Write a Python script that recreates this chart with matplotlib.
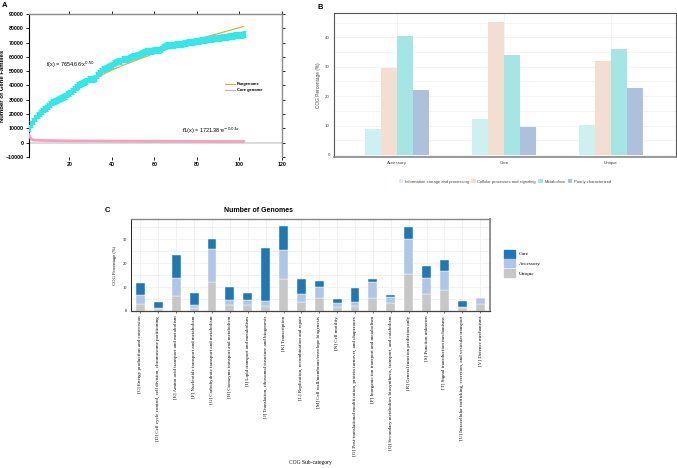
import matplotlib.pyplot as plt
from matplotlib.lines import Line2D
from matplotlib.patches import Patch
import numpy as np

plt.rcParams['font.family'] = ['Liberation Sans', 'DejaVu Sans']

# ---- panel A data ----
pan_x = list(range(1, 103))
pan_y = [10000, 12800, 15500, 17500, 19500, 21000, 22500, 23500, 24500, 26000,
         27000, 28200, 29000, 29600, 30500, 31200, 32000, 33000, 34000, 35000,
         36200, 37500, 38800, 40000, 40800, 41800, 42500, 43200, 44200, 44600,
         44800, 45300, 47000, 48800, 50200, 51200, 52300, 53000, 53500, 54300,
         55500, 56200, 57000, 57200, 58300, 58400, 58600, 59200, 59800, 60300,
         60600, 61200, 62000, 63000, 63500, 63800, 64000, 64200, 64300, 64500,
         64800, 65000, 65800, 66800, 67500, 68000, 68300, 68500, 68600, 68800,
         69000, 69100, 69300, 69500, 69800, 70100, 70400, 70700, 70900, 71100,
         71300, 71600, 71800, 72000, 72200, 72500, 72700, 72900, 73100, 73300,
         73500, 73700, 73900, 74100, 74300, 74600, 74800, 75000, 75200, 75400,
         75600, 75800]
fit_x = [1, 5, 10, 20, 30, 38, 45, 52, 60, 70, 76, 85, 94, 102]
fit_y = [8000, 17500, 25000, 35000, 43000, 49400, 54000, 58000, 62500, 67600,
         70300, 74300, 78000, 81300]
core_x = [1, 2, 3, 5, 10, 20, 40, 60, 80, 102]
core_y = [5500, 2500, 2000, 1700, 1500, 1300, 1100, 1000, 900, 850]

# ---- panel B data ----
b_groups = ["Accessory", "Core", "Unique"]
b_series = ["Information storage and processing", "Cellular processes and signaling",
            "Metabolism", "Poorly characterized"]
b_info = [8.7, 12.2, 10.2]
b_cell = [29.5, 45.1, 31.8]
b_metab = [40.5, 34.0, 35.9]
b_poor = [22.1, 9.5, 22.7]
b_colors = ["#cdf1f1", "#f3dfd2", "#a5e5e3", "#aec1dc"]

# ---- panel C data ----
cog_labels = [
    "[C] Energy production and conversion",
    "[D] Cell cycle control, cell division, chromosome partitioning",
    "[E] Amino acid transport and metabolism",
    "[F] Nucleotide transport and metabolism",
    "[G] Carbohydrate transport and metabolism",
    "[H] Coenzyme transport and metabolism",
    "[I] Lipid transport and metabolism",
    "[J] Translation, ribosomal structure and biogenesis",
    "[K] Transcription",
    "[L] Replication, recombination and repair",
    "[M] Cell wall/membrane/envelope biogenesis",
    "[N] Cell motility",
    "[O] Post-translational modification, protein turnover, and chaperones",
    "[P] Inorganic ion transport and metabolism",
    "[Q] Secondary metabolites biosynthesis, transport, and catabolism",
    "[R] General function prediction only",
    "[S] Function unknown",
    "[T] Signal transduction mechanisms",
    "[U] Intracellular trafficking, secretion, and vesicular transport",
    "[V] Defense mechanisms",
]
unique_pct = [3.0, 0.8, 6.2, 1.1, 12.1, 2.4, 2.4, 1.9, 13.2, 3.9,
              5.4, 1.7, 2.2, 5.4, 3.2, 15.3, 6.9, 8.6, 1.1, 2.8]
accessory_pct = [3.5, 0.6, 7.5, 1.4, 13.9, 2.0, 2.3, 2.3, 12.4, 3.0,
                 4.6, 1.8, 1.7, 6.8, 2.6, 14.6, 7.0, 8.1, 0.7, 2.6]
core_pct = [5.2, 2.5, 9.8, 4.9, 4.1, 5.5, 2.7, 22.3, 9.8, 6.4,
            2.5, 1.5, 5.8, 1.1, 0.9, 5.2, 4.9, 4.4, 2.2, 0.0]
c_colors = {"Core": "#1f77b4", "Accessory": "#aec7e8", "Unique": "#c7c7c7"}

W, H = 677, 468
fig = plt.figure(figsize=(W / 100, H / 100), dpi=100)

def box(l, t, r, b):
    return [l / W, 1 - b / H, (r - l) / W, (b - t) / H]

# ================= A =================
ax = fig.add_axes(box(29, 14, 282, 157))
ax.axhline(0, color="#d8d8d8", lw=1.3, zorder=1)
ax.plot(fit_x, fit_y, color="#f0a830", lw=0.9, zorder=2)
ax.plot(core_x, core_y, color="#f5a0bd", lw=2.0, zorder=3)
ax.errorbar(pan_x, pan_y, yerr=2100, fmt="none", ecolor="#33e8e8",
            elinewidth=2.2, capsize=1.1, capthick=0.8, zorder=4)
ax.set_xlim(1, 120)
ax.set_ylim(-10000, 90000)
ax.set_xticks([20, 40, 60, 80, 100, 120])
ax.set_yticks(range(-10000, 90001, 10000))
ax.tick_params(top=True, right=True, direction="out", length=2, width=0.6,
               labelsize=3.8, pad=1.5)
for lab in ax.get_xticklabels() + ax.get_yticklabels():
    lab.set_fontweight("bold")
ax.spines["left"].set_color("black")
ax.spines["left"].set_linewidth(0.8)
for s in ["top", "right"]:
    ax.spines[s].set_color("#8a8a8a")
    ax.spines[s].set_linewidth(1.0)
ax.spines["bottom"].set_visible(False)
ax.set_ylabel("Number of Gene Families", fontsize=4.3, fontweight="bold")
ax.yaxis.set_label_coords(-0.093, 0.5)
ax.text(9, 53000, r"f(x) = 7654.66$\cdot$x$^{0.50}$", fontsize=4)
ax.text(73, 7000, r"f1(x) = 1721.38$\cdot$e$^{-0.03x}$", fontsize=4)
handles = [Line2D([], [], color="#f0a830", lw=0.8),
           Line2D([], [], color="#c9a3da", lw=0.8)]
leg = ax.legend(handles, ["Pangenome", "Core genome"], loc="upper left",
                bbox_to_anchor=(0.76, 0.55), frameon=False, fontsize=2.9,
                handlelength=2.5, handletextpad=0.5, labelspacing=0.6)
for t in leg.get_texts():
    t.set_fontweight("bold")
fig.text(2 / W, 1 - 7 / H, "A", fontsize=5.5, fontweight="bold")

# ================= B =================
bx = fig.add_axes(box(334, 13, 676, 157))
xs = np.arange(len(b_groups))
w = 0.15
for i, (vals, col, name) in enumerate(zip([b_info, b_cell, b_metab, b_poor],
                                          b_colors, b_series)):
    bx.bar(xs + (i - 1.5) * w, vals, width=w, color=col, label=name, zorder=2)
bx.set_xlim(-0.59, 2.61)
bx.set_ylim(-0.7, 48.3)
bx.set_yticks([0, 10, 20, 30, 40])
bx.set_yticks(range(0, 48, 5), minor=True)
bx.grid(axis="y", which="both", color="#f2f2f2", lw=0.6, zorder=0)
bx.grid(axis="x", color="#f2f2f2", lw=0.6, zorder=0)
bx.set_xticks(xs)
bx.set_xticklabels(b_groups)
bx.tick_params(length=0, labelsize=3.2, labelcolor="#444444", pad=3)
bx.tick_params(which="minor", length=0)
for s in bx.spines.values():
    s.set_color("#555555")
    s.set_linewidth(0.8)
bx.spines["bottom"].set_color("#888888")
bx.spines["bottom"].set_linewidth(1.2)
bx.set_ylabel("COG Percentage (%)", fontsize=3.4, color="#444444", labelpad=3)
bx.legend(loc="center", bbox_to_anchor=(0.50, -0.17), ncol=4, frameon=False,
          fontsize=3.0, handlelength=1.0, handleheight=1.0, handletextpad=0.4,
          columnspacing=0.6, labelcolor="#444444")
fig.text(317 / W, 1 - 9 / H, "B", fontsize=5.5, fontweight="bold")

# ================= C =================
cx = fig.add_axes(box(131, 219, 490, 311))
pos = np.arange(len(cog_labels))
bot2 = [u + a for u, a in zip(unique_pct, accessory_pct)]
cx.bar(pos, unique_pct, width=0.5, color=c_colors["Unique"], edgecolor="white",
       lw=0.3, zorder=2)
cx.bar(pos, accessory_pct, bottom=unique_pct, width=0.5,
       color=c_colors["Accessory"], edgecolor="white", lw=0.3, zorder=2)
cx.bar(pos, core_pct, bottom=bot2, width=0.5, color=c_colors["Core"],
       edgecolor="white", lw=0.3, zorder=2)
cx.set_xlim(-0.53, 19.55)
cx.set_ylim(0, 38.4)
cx.set_yticks([0, 10, 20, 30])
cx.set_yticks(range(0, 38, 5), minor=True)
cx.grid(which="both", color="#ececec", lw=0.5, zorder=0)
cx.set_xticks(pos)
cx.set_xticklabels(cog_labels, rotation=90, fontsize=3.6, family="Liberation Serif")
for lab in cx.get_yticklabels():
    lab.set_family("Liberation Serif")
cx.tick_params(axis="y", labelsize=3.2, length=0, pad=3)
cx.tick_params(axis="x", length=1.5, width=0.4, pad=2)
cx.tick_params(which="minor", length=0)
cx.spines["left"].set_color("#222222")
cx.spines["left"].set_linewidth(0.7)
cx.spines["bottom"].set_color("#444444")
cx.spines["bottom"].set_linewidth(0.9)
cx.spines["top"].set_color("#888888")
cx.spines["top"].set_linewidth(1.0)
cx.spines["right"].set_color("#888888")
cx.spines["right"].set_linewidth(1.3)
cx.set_ylabel("COG Percentage (%)", fontsize=3.3, family="Liberation Serif", labelpad=4)
cx.set_xlabel("COG Sub-category", fontsize=4, family="Liberation Serif", labelpad=3)
c_handles = [Patch(color=c_colors[k]) for k in ["Core", "Accessory", "Unique"]]
cx.legend(c_handles, ["Core", "Accessory", "Unique"], loc="upper left",
          bbox_to_anchor=(1.025, 0.72), frameon=False,
          prop={"family": "Liberation Serif", "size": 3.8},
          handlelength=2.2, handleheight=2.0, handletextpad=0.6, labelspacing=0.3)
fig.text(258 / W, 1 - 210 / H, "Number of Genomes", fontsize=5, fontweight="bold",
         ha="center", va="center")
fig.text(105 / W, 1 - 210 / H, "C", fontsize=5.5, fontweight="bold", va="center")

fig.savefig("out.png", dpi=100)
